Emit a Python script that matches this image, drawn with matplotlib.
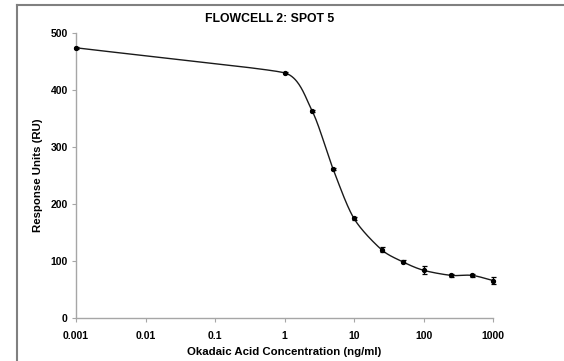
import numpy as np
import matplotlib.pyplot as plt
from matplotlib.lines import Line2D

plt.rcParams['font.family'] = ['Liberation Sans', 'DejaVu Sans']

# data
conc = [0.001, 1, 2.5, 5, 10, 25, 50, 100, 250, 500, 1000]
response = [474, 430, 363, 261, 174, 119, 98, 83, 74, 74, 65]
errors = [1.5, 1.5, 2, 2, 3, 4.5, 2.5, 7, 2, 2, 7]
x_ticks = [0.001, 0.01, 0.1, 1, 10, 100, 1000]
x_tick_labels = ['0.001', '0.01', '0.1', '1', '10', '100', '1000']
y_ticks = [0, 100, 200, 300, 400, 500]


def smooth(ax, xs, ys, n=40, k=0.33):
    # smoothed line through the points (bezier, screen space)
    pts = ax.transData.transform(np.column_stack([xs, ys]))
    last = len(pts) - 1
    seglen = [np.hypot(*(pts[i + 1] - pts[i])) for i in range(last)]
    tang, arm = [], []
    for i in range(len(pts)):
        d = pts[min(i + 1, last)] - pts[max(i - 1, 0)]
        tang.append(d / np.hypot(*d))
        near = [seglen[j] for j in (i - 1, i) if 0 <= j < last]
        arm.append(k * min(near))
    out = [pts[0]]
    t = np.linspace(0, 1, n)[1:, None]
    for i in range(last):
        p1, p2 = pts[i], pts[i + 1]
        c1 = p1 + tang[i] * arm[i]
        c2 = p2 - tang[i + 1] * arm[i + 1]
        seg = (1 - t)**3 * p1 + 3 * (1 - t)**2 * t * c1 + 3 * (1 - t) * t**2 * c2 + t**3 * p2
        out.extend(seg)
    return ax.transData.inverted().transform(np.array(out))


fig = plt.figure(figsize=(5.64, 3.61), dpi=100)
ax = fig.add_axes([76 / 564, 1 - 317.5 / 361, 417 / 564, 284.5 / 361])
ax.set_xscale('log')
ax.set_xlim(0.001, 1000)
ax.set_ylim(0, 500)

curve = smooth(ax, conc, response)
ax.plot(curve[:, 0], curve[:, 1], color='#1a1a1a', lw=1.0, zorder=2)
eb = ax.errorbar(conc, response, yerr=errors, fmt='o', ms=2.8, color='black',
                 ecolor='black', elinewidth=0.9, capsize=1.8, capthick=0.9, zorder=3)
for art in eb.get_children():
    art.set_clip_on(False)

ax.set_xticks(x_ticks)
ax.set_xticklabels(x_tick_labels)
ax.set_yticks(y_ticks)
ax.minorticks_off()
for s in ['top', 'right']:
    ax.spines[s].set_visible(False)
for s in ['left', 'bottom']:
    ax.spines[s].set_color('#a6a6a6')
    ax.spines[s].set_linewidth(1.0)
ax.tick_params(axis='both', colors='#a6a6a6', length=3, width=0.8,
               labelcolor='black', labelsize=7.5)
ax.tick_params(axis='x', pad=7)
ax.tick_params(axis='y', pad=3)
for lab in ax.get_xticklabels() + ax.get_yticklabels():
    lab.set_fontweight('bold')

ax.set_xlabel('Okadaic Acid Concentration (ng/ml)', fontsize=8.2, fontweight='bold', labelpad=4)
ax.set_ylabel('Response Units (RU)', fontsize=8.2, fontweight='bold', labelpad=5)
fig.text(270 / 564, 1 - 19 / 361, 'FLOWCELL 2: SPOT 5', ha='center', va='center',
         fontsize=8.8, fontweight='bold')

# chart area border (only top and left visible in the crop)
fig.add_artist(Line2D([17 / 564, 17 / 564], [0, 1 - 4.5 / 361], transform=fig.transFigure,
                      color='#808080', lw=1.5))
fig.add_artist(Line2D([17 / 564, 1], [1 - 4.5 / 361, 1 - 4.5 / 361], transform=fig.transFigure,
                      color='#808080', lw=1.5))

fig.savefig('out.png', dpi=100)
